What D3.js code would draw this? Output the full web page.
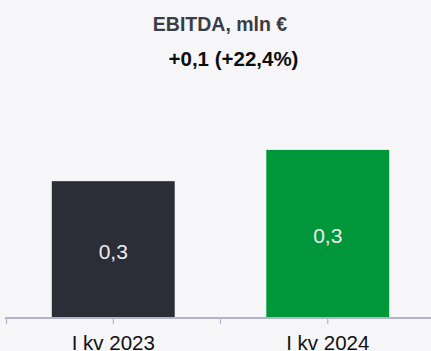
<!DOCTYPE html>
<html>
<head>
<meta charset="utf-8">
<script src="https://cdn.jsdelivr.net/npm/d3@7"></script>
<style>
  html, body { margin: 0; padding: 0; background: #f6f6f8; }
  svg { display: block; font-family: "Liberation Sans", Arial, sans-serif; }
</style>
</head>
<body>
<svg id="chart" width="431" height="351"></svg>
<script>
// EBITDA by quarter, mln €
const categories = ["I kv 2023", "I kv 2024"];
const values = [0.267, 0.328];
const barColors = ["#2b2d37", "#00973a"];
const title = "EBITDA, mln €";
const subtitle = "+0,1 (+22,4%)";

const W = 431, H = 351;
const baseY = 318;

const svg = d3.select("#chart");
svg.append("rect").attr("width", W).attr("height", H).attr("fill", "#f6f6f8");

const x = d3.scaleBand()
  .domain(categories)
  .range([6, 435])
  .paddingInner(0.427)
  .paddingOuter(0.2135);

const y = d3.scaleLinear().domain([0, 0.4]).range([baseY, 113]);

const fmt = v => d3.format(".1f")(v).replace(".", ",");

// bars
svg.selectAll("rect.bar")
  .data(categories)
  .join("rect")
  .attr("class", "bar")
  .attr("x", d => x(d))
  .attr("width", x.bandwidth())
  .attr("y", (d, i) => y(values[i]))
  .attr("height", (d, i) => baseY - y(values[i]))
  .attr("fill", (d, i) => barColors[i]);

// value labels inside the bars
svg.selectAll("text.val")
  .data(categories)
  .join("text")
  .attr("class", "val")
  .attr("x", d => x(d) + x.bandwidth() / 2)
  .attr("y", (d, i) => (y(values[i]) + baseY) / 2 + 9)
  .attr("text-anchor", "middle")
  .attr("font-size", 21)
  .attr("fill", "#ececee")
  .text((d, i) => fmt(values[i]));

// category axis
const axis = svg.append("g")
  .attr("transform", `translate(0,${baseY})`)
  .call(d3.axisBottom(x).tickSize(6).tickPadding(11));
axis.select(".domain").remove();
axis.selectAll(".tick line").attr("stroke", "#b3b3c9").attr("stroke-width", 1.2);
axis.selectAll(".tick text")
  .attr("font-size", 20.5)
  .attr("fill", "#111")
  .attr("font-family", "\"Liberation Sans\", Arial, sans-serif");

axis.append("line")
  .attr("x1", 5).attr("x2", W)
  .attr("y1", 0).attr("y2", 0)
  .attr("stroke", "#b3b3c9").attr("stroke-width", 2);

// band boundary ticks
const step = x.step();
const edges = [x(categories[0]) - x.paddingOuter() * step + 0.5,
               x(categories[0]) + x.bandwidth() + x.paddingInner() * step / 2];
axis.selectAll("line.edge")
  .data(edges)
  .join("line")
  .attr("class", "edge")
  .attr("x1", d => d).attr("x2", d => d)
  .attr("y1", 0).attr("y2", 6)
  .attr("stroke", "#b3b3c9").attr("stroke-width", 1.2);

// titles
svg.append("text")
  .attr("x", 220).attr("y", 31)
  .attr("text-anchor", "middle")
  .attr("font-size", 19.5)
  .attr("font-weight", "bold")
  .attr("fill", "#3a3c46")
  .text(title);

svg.append("text")
  .attr("x", 233.5).attr("y", 66)
  .attr("text-anchor", "middle")
  .attr("font-size", 20.5)
  .attr("font-weight", "bold")
  .attr("fill", "#0d0d0d")
  .text(subtitle);
</script>
</body>
</html>
